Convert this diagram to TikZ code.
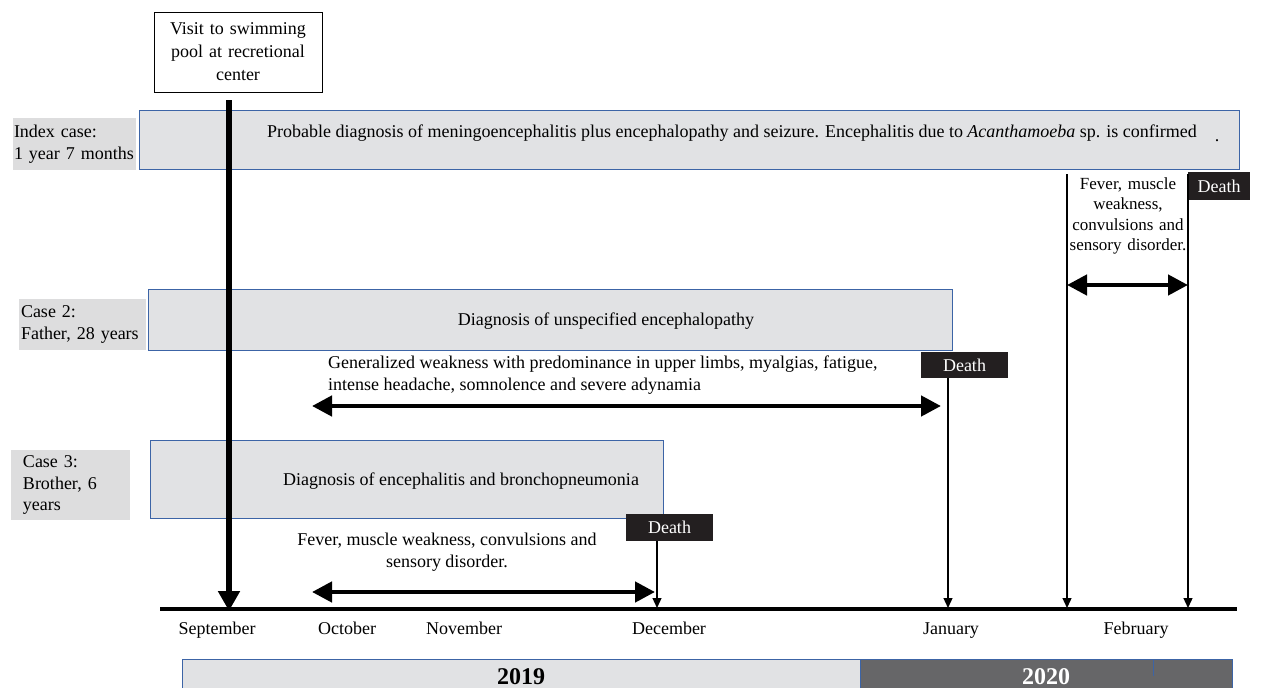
\documentclass[tikz,border=0pt]{standalone}
\usepackage{fontspec}
\setmainfont{Liberation Serif}
\usetikzlibrary{arrows.meta,positioning}
\definecolor{barfill}{HTML}{E1E2E4}
\definecolor{barblue}{HTML}{3C64A6}
\definecolor{labfill}{HTML}{DDDDDE}
\definecolor{deathfill}{HTML}{231F20}
\definecolor{yearfill}{HTML}{666668}

\tikzset{
  txt/.style={font=\fontsize{18}{21.5}\selectfont, inner sep=0pt, align=center},
  bar/.style={draw=barblue, fill=barfill, line width=1pt, inner sep=0pt},
  caselab/.style={fill=labfill, font=\fontsize{18}{21.5}\selectfont, align=left, inner sep=0pt},
  death/.style={fill=deathfill, text=white, font=\fontsize{18}{20}\selectfont, inner sep=0pt},
  yeartxt/.style={font=\fontsize{24}{26}\selectfont\bfseries, inner sep=0pt},
  tick/.style={line width=1.3pt, -{Triangle[length=10pt,width=9pt]}},
  span/.style={line width=4.5pt, {Triangle[length=20pt,width=20pt]}-{Triangle[length=20pt,width=20pt]}},
}

\begin{document}
\begin{tikzpicture}[x=1pt, y=-1pt]
\useasboundingbox (0,0) rectangle (1262,688);
% year bars at the bottom
\begin{scope}
\clip (0,0) rectangle (1262,688);
\node[bar, minimum width=678pt, minimum height=40pt] (y19) at (521,679) {};
\node[draw=barblue, fill=yearfill, line width=1pt, minimum width=372pt, minimum height=40pt, inner sep=0pt] (y20) at (1046,679) {};
\draw[barblue, line width=1pt] (1153,660) -- (1153,676);
\end{scope}
\node[yeartxt] (t19) at (521,677) {2019};
\node[yeartxt, text=white] (t20) at (1046,677) {2020};

% time axis
\coordinate (axl) at (160,609);
\coordinate (axr) at (1237,609);
\draw[line width=3.5pt] (axl) -- (axr);
\foreach \m/\x in {September/217, October/347, November/464, December/669, January/951, February/1136}
  \node[txt, anchor=base] (\m) at (\x,634) {\m};

% index case
\node[caselab, minimum width=123pt, minimum height=52pt, text width=121pt] (idxlab) at (74.5,144) {Index case:\\1 year 7 months};
\node[bar, minimum width=1100pt, minimum height=59pt] (idxbar) at (689,139.5) {};
\node[txt] (idxtxt) at (732,133) {Probable diagnosis of meningoencephalitis plus encephalopathy and seizure. Encephalitis due to \textit{Acanthamoeba} sp. is confirmed};
\node[txt] (idxdot) at (1217,141) {.};

% case 2
\node[caselab, minimum width=127pt, minimum height=51pt, text width=123pt] (c2lab) at (82.5,324.5) {Case 2:\\Father, 28 years};
\node[bar, minimum width=804pt, minimum height=61pt] (c2bar) at (550,319.5) {};
\node[txt] (c2txt) at (606,321) {Diagnosis of unspecified encephalopathy};
\node[txt, align=left, anchor=north west] (c2sym) at (328,356) {Generalized weakness with predominance in upper limbs, myalgias, fatigue,\\intense headache, somnolence and severe adynamia};

% case 3
\node[caselab, minimum width=119pt, minimum height=70pt, text width=95pt] (c3lab) at (70.5,485) {Case 3:\\Brother, 6\\years};
\node[bar, minimum width=513pt, minimum height=78pt] (c3bar) at (406.5,479) {};
\node[txt] (c3txt) at (461,481) {Diagnosis of encephalitis and bronchopneumonia};
\node[txt] (c3sym) at (447,552) {Fever, muscle weakness, convulsions and\\sensory disorder.};

% visit to the pool
\node[draw, line width=1pt, txt, font=\fontsize{18}{23}\selectfont, text width=150pt, minimum width=168pt, minimum height=80pt] (visit) at (238,52) {Visit to swimming\\pool at recretional\\center};
\coordinate (vtop) at (229,100);
\coordinate (vbot) at (229,611);
\draw[line width=5.5pt, -{Triangle[length=20pt,width=21pt]}] (vtop) -- (vbot);

% deaths
\node[death, minimum width=62pt, minimum height=28pt] (d1) at (1219,186) {Death};
\node[death, minimum width=87pt, minimum height=26pt] (d2) at (964.5,365) {Death};
\node[death, minimum width=87pt, minimum height=27pt] (d3) at (669.5,527.5) {Death};
\coordinate (f1top) at (1067,174);
\coordinate (f1) at (1067,608);
\coordinate (f2top) at (1188,174);
\coordinate (f2) at (1188,608);
\coordinate (jan) at (948,608);
\coordinate (dec) at (657,608);
\draw[tick] (f1top) -- (f1);
\draw[tick] (f2top) -- (f2);
\draw[tick] (d2.south -| jan) -- (jan);
\draw[tick] (d3.south -| dec) -- (dec);

% symptom spans
\node[txt, text width=120pt, font=\fontsize{17}{20.5}\selectfont] (c1sym) at (1128,216) {Fever, muscle\\weakness,\\convulsions and\\sensory disorder.};
\coordinate (s1a) at (1067,285);
\coordinate (s1b) at (1188,285);
\draw[span] (s1a) -- (s1b);
\coordinate (s2a) at (312,406);
\coordinate (s2b) at (941,406);
\draw[span] (s2a) -- (s2b);
\coordinate (s3a) at (312,592);
\coordinate (s3b) at (655,592);
\draw[span] (s3a) -- (s3b);
\end{tikzpicture}
\end{document}
